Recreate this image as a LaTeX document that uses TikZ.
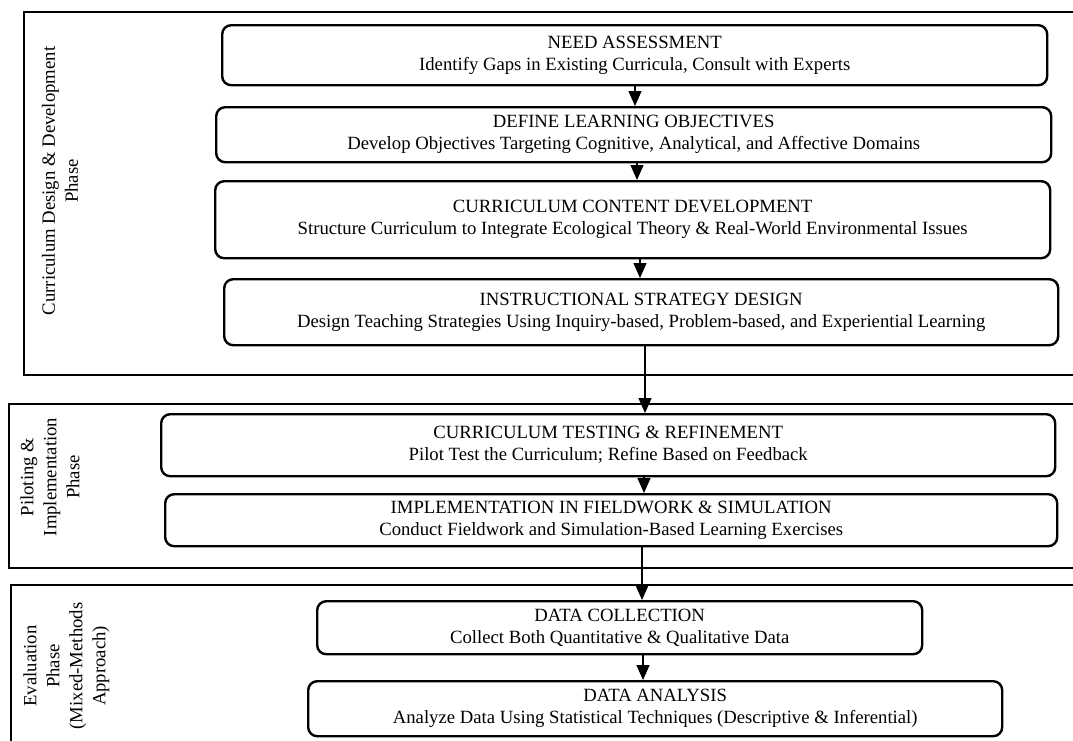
\documentclass[tikz,border=0pt]{standalone}
\usepackage{fontspec}
\setmainfont{Liberation Serif}
\usetikzlibrary{arrows.meta}
\begin{document}
\begin{tikzpicture}[x=1pt,y=1pt,
  stepbox/.style={draw, line width=2.4pt, rounded corners=9pt, anchor=north west, inner sep=0pt, align=center, font=\fontsize{18.7}{22}\selectfont},
  phasebox/.style={draw, line width=2.4pt, anchor=north west, inner sep=0pt},
  phaselabel/.style={rotate=90, align=center, font=\fontsize{18.7}{23}\selectfont},
  arr/.style={line width=1.3pt, -{Triangle[length=15pt,width=13pt]}}]
\clip (0,0) rectangle (1073,-740);
\fill[white] (0,0) rectangle (1073,-740);
% phase frames
\node[phasebox, minimum width=1067pt, minimum height=363pt] (p1) at (23,-11) {};
\node[phasebox, minimum width=1082pt, minimum height=164pt] (p2) at (8,-403) {};
\node[phasebox, minimum width=1080pt, minimum height=176pt] (p3) at (10,-584) {};
% phase labels
\node[phaselabel] (l1) at (60,-181) {Curriculum Design \& Development\\Phase};
\node[phaselabel] (l2) at (50,-477) {Piloting \&\\Implementation\\Phase};
\node[phaselabel] (l3) at (66.5,-666) {Evaluation\\Phase\\(Mixed-Methods\\Approach)};
% steps
\node[stepbox, minimum width=825pt, minimum height=60pt] (na) at (221,-24) {NEED ASSESSMENT\\Identify Gaps in Existing Curricula, Consult with Experts};
\node[stepbox, minimum width=835pt, minimum height=55pt] (dl) at (215,-106) {DEFINE LEARNING OBJECTIVES\\Develop Objectives Targeting Cognitive, Analytical, and Affective Domains};
\node[stepbox, minimum width=835pt, minimum height=77pt] (cc) at (214,-180) {CURRICULUM CONTENT DEVELOPMENT\\Structure Curriculum to Integrate Ecological Theory \& Real-World Environmental Issues};
\node[stepbox, minimum width=834pt, minimum height=66pt] (is) at (223,-278) {INSTRUCTIONAL STRATEGY DESIGN\\Design Teaching Strategies Using Inquiry-based, Problem-based, and Experiential Learning};
\node[stepbox, minimum width=894pt, minimum height=62pt] (ct) at (160,-413) {CURRICULUM TESTING \& REFINEMENT\\Pilot Test the Curriculum; Refine Based on Feedback};
\node[stepbox, minimum width=892pt, minimum height=52pt] (im) at (164,-493) {IMPLEMENTATION IN FIELDWORK \& SIMULATION\\Conduct Fieldwork and Simulation-Based Learning Exercises};
\node[stepbox, minimum width=605pt, minimum height=53pt] (dc) at (316,-600) {DATA COLLECTION\\Collect Both Quantitative \& Qualitative Data};
\node[stepbox, minimum width=694pt, minimum height=55pt] (da) at (307,-680) {DATA ANALYSIS\\Analyze Data Using Statistical Techniques (Descriptive \& Inferential)};
% arrows
\draw[arr] (na.south -| 635,0) -- (dl.north -| 635,0);
\draw[arr] (dl.south -| 637,0) -- (cc.north -| 637,0);
\draw[arr] (cc.south -| 640,0) -- (is.north -| 640,0);
\draw[arr] (is.south -| 645,0) -- (ct.north -| 645,0);
\draw[arr] (ct.south -| 644,0) -- (im.north -| 644,0);
\draw[arr] (im.south -| 642,0) -- (dc.north -| 642,0);
\draw[arr] (dc.south -| 643,0) -- (da.north -| 643,0);
\end{tikzpicture}
\end{document}
